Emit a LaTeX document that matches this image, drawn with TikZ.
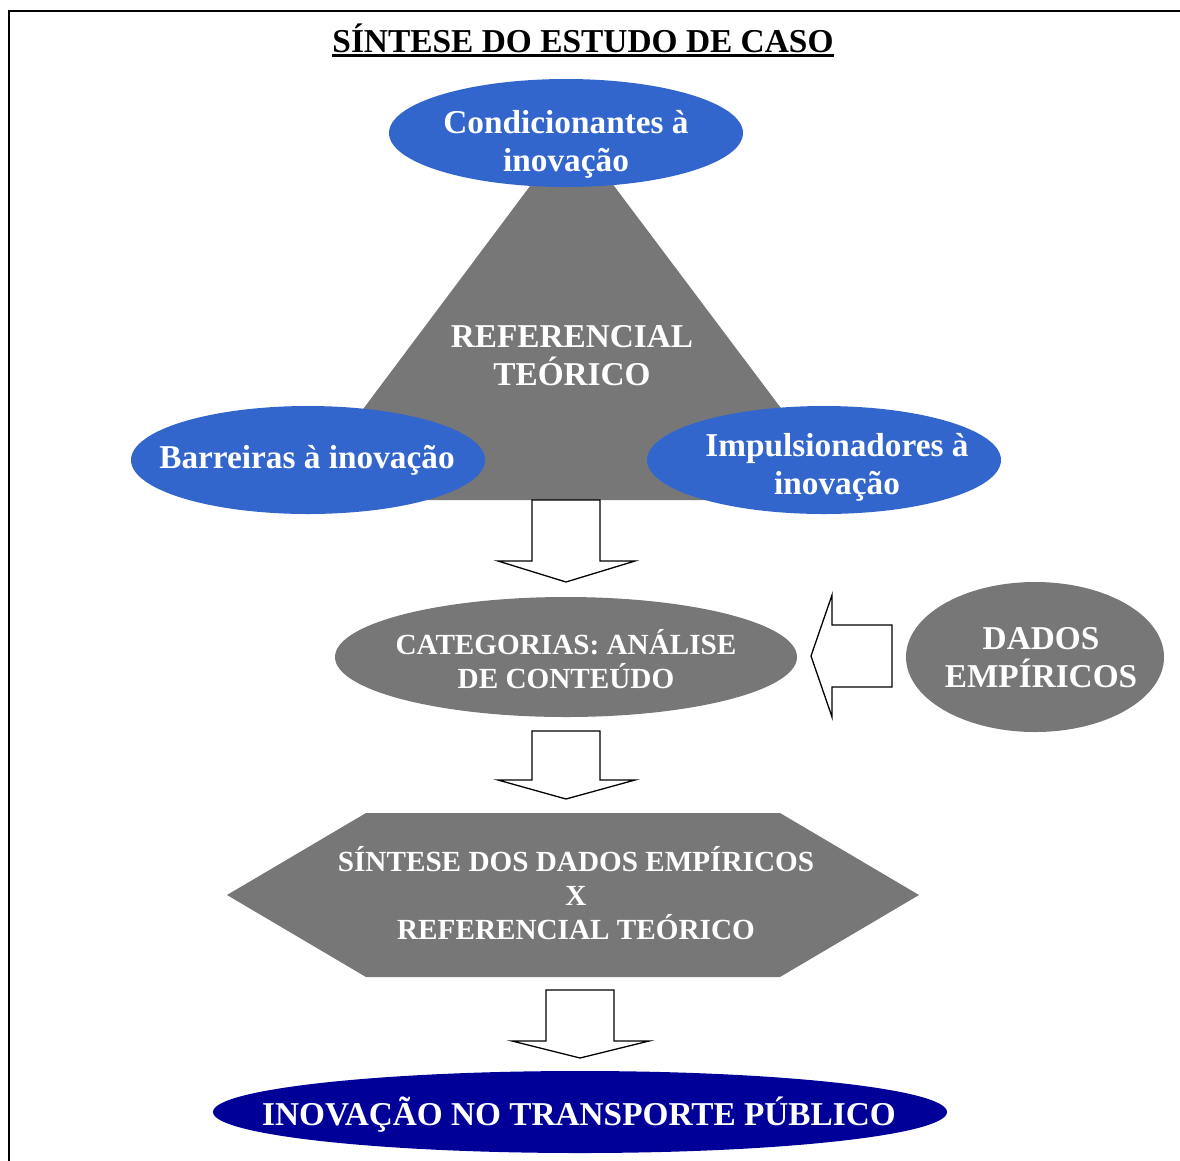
\documentclass[tikz,border=0pt]{standalone}
\usepackage{fontspec}
\setmainfont{Liberation Serif}
\usetikzlibrary{shapes.geometric}
\definecolor{ovalblue}{RGB}{51,102,204}
\definecolor{shapegray}{RGB}{119,119,119}
\definecolor{navyblue}{RGB}{0,0,153}
\begin{document}
\begin{tikzpicture}[x=1pt,y=-1pt,
  txt/.style={text=white, font=\fontsize{33.3}{38}\selectfont\bfseries, align=center, inner sep=0pt},
  smalltxt/.style={text=white, font=\fontsize{29.2}{34}\selectfont\bfseries, align=center, inner sep=0pt},
  oval/.style={ellipse, inner sep=0pt, fill=ovalblue},
  grayoval/.style={ellipse, inner sep=0pt, fill=shapegray},
  blockarrow/.style={draw=black, fill=white, line width=1.3pt, line join=miter}
]
\useasboundingbox (0,0) rectangle (1180,1160);
% frame
\draw[line width=1.8pt] (1181,11) -| (9,1161);
% title
\node[font=\fontsize{33.4}{38}\selectfont\bfseries, inner sep=0pt, anchor=base] (title) at (583,52) {SÍNTESE DO ESTUDO DE CASO};
\draw[line width=3pt] ([yshift=-3.8pt]title.base west) -- ([yshift=-3.8pt]title.base east);
% triangle
\fill[shapegray] (572,130) -- (850,500) -- (295,500) -- cycle;
\node[txt] (refT) at (572,356) {REFERENCIAL\\TEÓRICO};
% ovals
\node[oval, minimum width=354pt, minimum height=108pt] (cond) at (566,133) {};
\node[txt] (condT) at (566,144) {Condicionantes à\\inovação};
\node[oval, minimum width=354pt, minimum height=108pt] (barr) at (308,460) {};
\node[txt, anchor=base] (barrT) at (307,468) {Barreiras à inovação};
\node[oval, minimum width=354pt, minimum height=108pt] (impu) at (824,460) {};
\node[txt] (impuT) at (837,467) {Impulsionadores à\\inovação};
% arrow 1
\draw[blockarrow] (532,500) -- (600,500) -- (600,561) -- (635,561) -- (566,582) -- (498,561) -- (532,561) -- cycle;
% categorias
\node[grayoval, minimum width=462pt, minimum height=120pt] (cat) at (566,657) {};
\node[smalltxt] (catT) at (566,659) {CATEGORIAS: ANÁLISE\\DE CONTEÚDO};
% dados
\node[grayoval, minimum width=258pt, minimum height=150pt] (dados) at (1035,657) {};
\node[txt] (dadosT) at (1041,658) {DADOS\\EMPÍRICOS};
% left arrow
\draw[blockarrow] (892,625) -- (892,687) -- (832,687) -- (832,717) -- (811,656) -- (832,595) -- (832,625) -- cycle;
% arrow 2
\draw[blockarrow] (532,731) -- (600,731) -- (600,780) -- (635,780) -- (566,799) -- (498,780) -- (532,780) -- cycle;
% hexagon
\fill[shapegray] (227,895) -- (366,813) -- (780,813) -- (919,895) -- (780,977) -- (366,977) -- cycle;
\node[smalltxt] (hexT) at (576,893) {SÍNTESE DOS DADOS EMPÍRICOS\\X\\REFERENCIAL TEÓRICO};
% arrow 3
\draw[blockarrow] (546,990) -- (614,990) -- (614,1041) -- (649,1041) -- (580,1058) -- (512,1041) -- (546,1041) -- cycle;
% bottom
\node[ellipse, inner sep=0pt, fill=navyblue, minimum width=734pt, minimum height=82pt] (inov) at (580,1112) {};
\node[txt, anchor=base] (inovT) at (579,1125) {INOVAÇÃO NO TRANSPORTE PÚBLICO};
\end{tikzpicture}
\end{document}
